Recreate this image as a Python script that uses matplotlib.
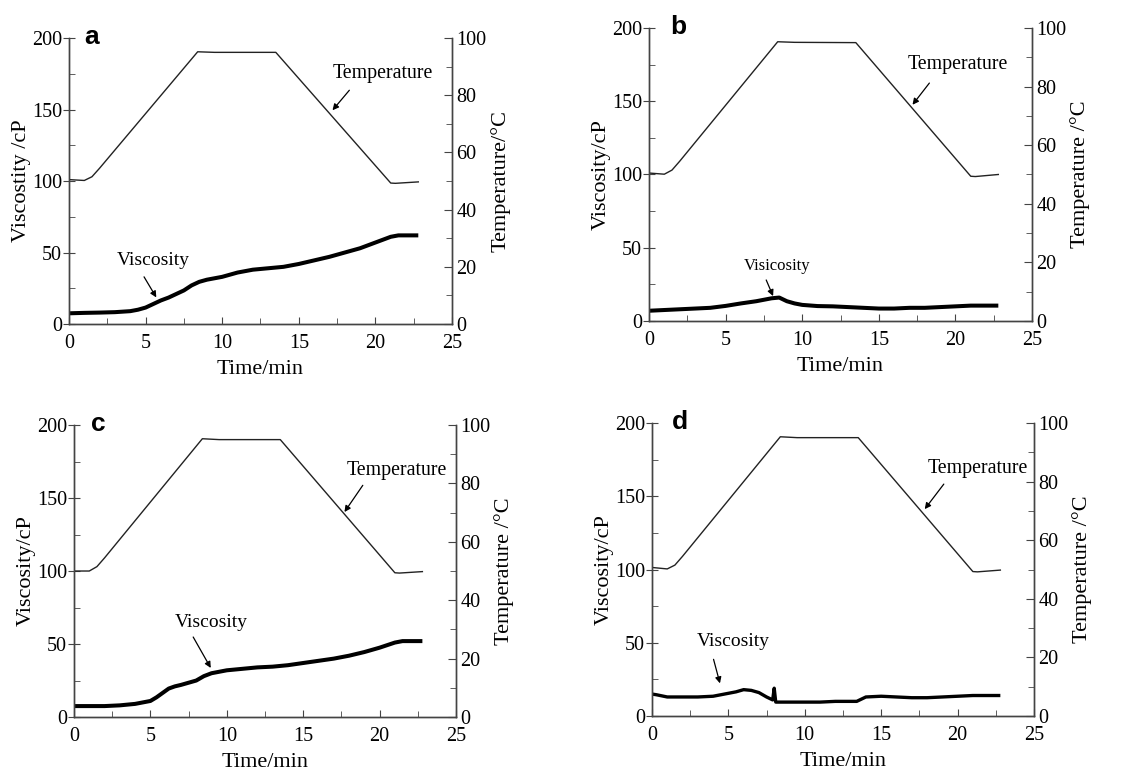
import matplotlib
matplotlib.use("Agg")
import matplotlib.pyplot as plt
from matplotlib.ticker import MultipleLocator

plt.rcParams["font.family"] = "Liberation Serif"
plt.rcParams["mathtext.fontset"] = "stix"

# temperature programme (time in min, temperature in deg C)
temp_t = [0, 1.0, 1.5, 2.0, 8.4, 9.5, 13.5, 21.0, 21.3, 22.8]
temp_a = [50.5, 50.2, 51.5, 54.5, 95.2, 95.0, 95.0, 49.3, 49.2, 49.7]
temp_b = [50.5, 50.1, 51.5, 54.5, 95.3, 95.1, 95.0, 49.4, 49.3, 50.0]
temp_c = [50.0, 50.0, 51.5, 54.5, 95.3, 95.0, 95.0, 49.4, 49.3, 49.8]
temp_d = [50.7, 50.2, 51.5, 54.5, 95.3, 95.0, 95.0, 49.3, 49.2, 49.8]

# viscosity curves (cP)
visc_t_a = [0, 1, 2, 3, 4, 4.5, 5, 5.5, 6, 6.5, 7, 7.5, 8, 8.5, 9, 10, 11, 12, 13, 14, 15,
            16, 17, 18, 19, 20, 21, 21.5, 22, 22.8]
visc_a = [7.5, 7.8, 8, 8.3, 9, 10, 11.5, 14, 16.5, 18.5, 21, 23.5, 27, 29.5, 31, 33, 36, 38,
          39, 40, 42, 44.5, 47, 50, 53, 57, 61, 62, 62, 62]

visc_t_b = [0, 1, 2, 3, 4, 5, 6, 7, 7.5, 8, 8.5, 9, 9.5, 10, 11, 12, 13, 14, 15, 16, 17, 18,
            19, 20, 21, 22, 22.8]
visc_b = [7, 7.5, 8, 8.5, 9, 10.3, 12, 13.5, 14.5, 15.5, 16, 13.5, 12, 11, 10.2, 10, 9.5, 9,
          8.5, 8.5, 9, 9, 9.5, 10, 10.5, 10.5, 10.5]

visc_t_c = [0, 1, 2, 3, 4, 4.5, 5, 5.4, 5.8, 6.2, 6.6, 7, 7.5, 8, 8.5, 9, 10, 11, 12, 13, 14,
            15, 16, 17, 18, 19, 20, 21, 21.5, 22, 22.8]
visc_c = [7.5, 7.5, 7.5, 8, 9, 10, 11, 13.5, 16.5, 19.5, 21, 22, 23.5, 25, 28, 30, 32, 33,
          34, 34.5, 35.5, 37, 38.5, 40, 42, 44.5, 47.5, 51, 52, 52, 52]

visc_t_d = [0, 0.3, 1, 2, 3, 4, 4.5, 5, 5.5, 6, 6.5, 7, 7.5, 7.9, 8.0, 8.1, 9, 10, 11, 12,
            13, 13.4, 14, 15, 16, 17, 18, 19, 20, 21, 22, 22.8]
visc_d = [15, 14.5, 13, 13, 13, 13.5, 14.5, 15.5, 16.5, 18, 17.5, 16, 13, 11, 19, 9.5, 9.5,
          9.5, 9.5, 10, 10, 10, 13, 13.5, 13, 12.5, 12.5, 13, 13.5, 14, 14, 14]

panels = [
    dict(letter="a", lx=1.45, rect=[0.0604, 0.5819, 0.3354, 0.3690], temp=temp_a,
         vt=visc_t_a, v=visc_a, vlw=2.9, ylab="Viscostity /cP", tlab="Temperature/°C",
         ttxt=(20.5, 175), tarr=((18.3, 163.5), (17.2, 149.5)),
         vname="Viscosity", vsize=14, vtxt=(5.5, 44.7), varr=((4.9, 33), (5.7, 18.6))),
    dict(letter="b", lx=1.9, rect=[0.5683, 0.5858, 0.3354, 0.3781], temp=temp_b,
         vt=visc_t_b, v=visc_b, vlw=2.9, ylab="Viscosity/cP", tlab="Temperature /°C",
         ttxt=(20.15, 175), tarr=((18.3, 162.4), (17.2, 147.6)),
         vname="Visicosity", vsize=12, vtxt=(8.35, 37.8), varr=((7.65, 28), (8.1, 17))),
    dict(letter="c", lx=1.6, rect=[0.0648, 0.0748, 0.3345, 0.3768], temp=temp_c,
         vt=visc_t_c, v=visc_c, vlw=2.9, ylab="Viscosity/cP", tlab="Temperature /°C",
         ttxt=(21.1, 169), tarr=((18.9, 158.7), (17.7, 140.4)),
         vname="Viscosity", vsize=14, vtxt=(9.0, 65), varr=((7.8, 54.8), (8.95, 33.6))),
    dict(letter="d", lx=1.8, rect=[0.5709, 0.0761, 0.3345, 0.3781], temp=temp_d,
         vt=visc_t_d, v=visc_d, vlw=2.4, ylab="Viscosity/cP", tlab="Temperature /°C",
         ttxt=(21.3, 169), tarr=((19.1, 158.3), (17.85, 141.2)),
         vname="Viscosity", vsize=14, vtxt=(5.3, 50.8), varr=((4.03, 38.7), (4.45, 22.3))),
]

fig = plt.figure(figsize=(11.42, 7.75), dpi=100)
spine_col = "#444444"

for p in panels:
    ax = fig.add_axes(p["rect"])
    ax2 = ax.twinx()

    ax.plot(p["vt"], p["v"], color="black", lw=p["vlw"], solid_capstyle="butt")
    ax2.plot(temp_t, p["temp"], color="#222222", lw=1.0)

    ax.set_xlim(0, 25)
    ax.set_ylim(0, 200)
    ax2.set_ylim(0, 100)

    ax.xaxis.set_major_locator(MultipleLocator(5))
    ax.xaxis.set_minor_locator(MultipleLocator(2.5))
    ax.yaxis.set_major_locator(MultipleLocator(50))
    ax.yaxis.set_minor_locator(MultipleLocator(25))
    ax2.yaxis.set_major_locator(MultipleLocator(20))
    ax2.yaxis.set_minor_locator(MultipleLocator(10))

    for a in (ax, ax2):
        a.spines["top"].set_visible(False)
        for s in a.spines.values():
            s.set_color(spine_col)
            s.set_linewidth(1.0)
    ax.tick_params(axis="x", which="both", direction="in", labelsize=14.5, pad=7,
                   color=spine_col)
    ax.tick_params(axis="x", which="major", length=5)
    ax.tick_params(axis="x", which="minor", length=4)
    ax.tick_params(axis="y", which="major", direction="inout", length=8, labelsize=14.5,
                   pad=1, color=spine_col)
    ax.tick_params(axis="y", which="minor", direction="in", length=4, color=spine_col)
    ax2.tick_params(axis="y", which="major", direction="in", length=6, labelsize=14.5,
                    pad=3, color=spine_col)
    ax2.tick_params(axis="y", which="minor", direction="in", length=4, color=spine_col)

    ax.set_xlabel("Time/min", fontsize=16, labelpad=5)
    ax.set_ylabel(p["ylab"], fontsize=16, labelpad=1)
    ax2.set_ylabel(p["tlab"], fontsize=16, labelpad=3)

    ax.text(p["ttxt"][0], p["ttxt"][1], "Temperature", fontsize=14.3,
            ha="center", va="center")
    ax.annotate("", xy=p["tarr"][1], xytext=p["tarr"][0],
                arrowprops=dict(arrowstyle="-|>", color="black", lw=0.9,
                                mutation_scale=9, shrinkA=0, shrinkB=0))
    ax.text(p["vtxt"][0], p["vtxt"][1], p["vname"], fontsize=p["vsize"],
            ha="center", va="center")
    ax.annotate("", xy=p["varr"][1], xytext=p["varr"][0],
                arrowprops=dict(arrowstyle="-|>", color="black", lw=0.9,
                                mutation_scale=9, shrinkA=0, shrinkB=0))

    ax.text(p["lx"], 201, p["letter"], fontsize=19, fontweight="bold",
            family="Liberation Sans", ha="center", va="center", clip_on=False)

fig.savefig("out.png", dpi=100)
